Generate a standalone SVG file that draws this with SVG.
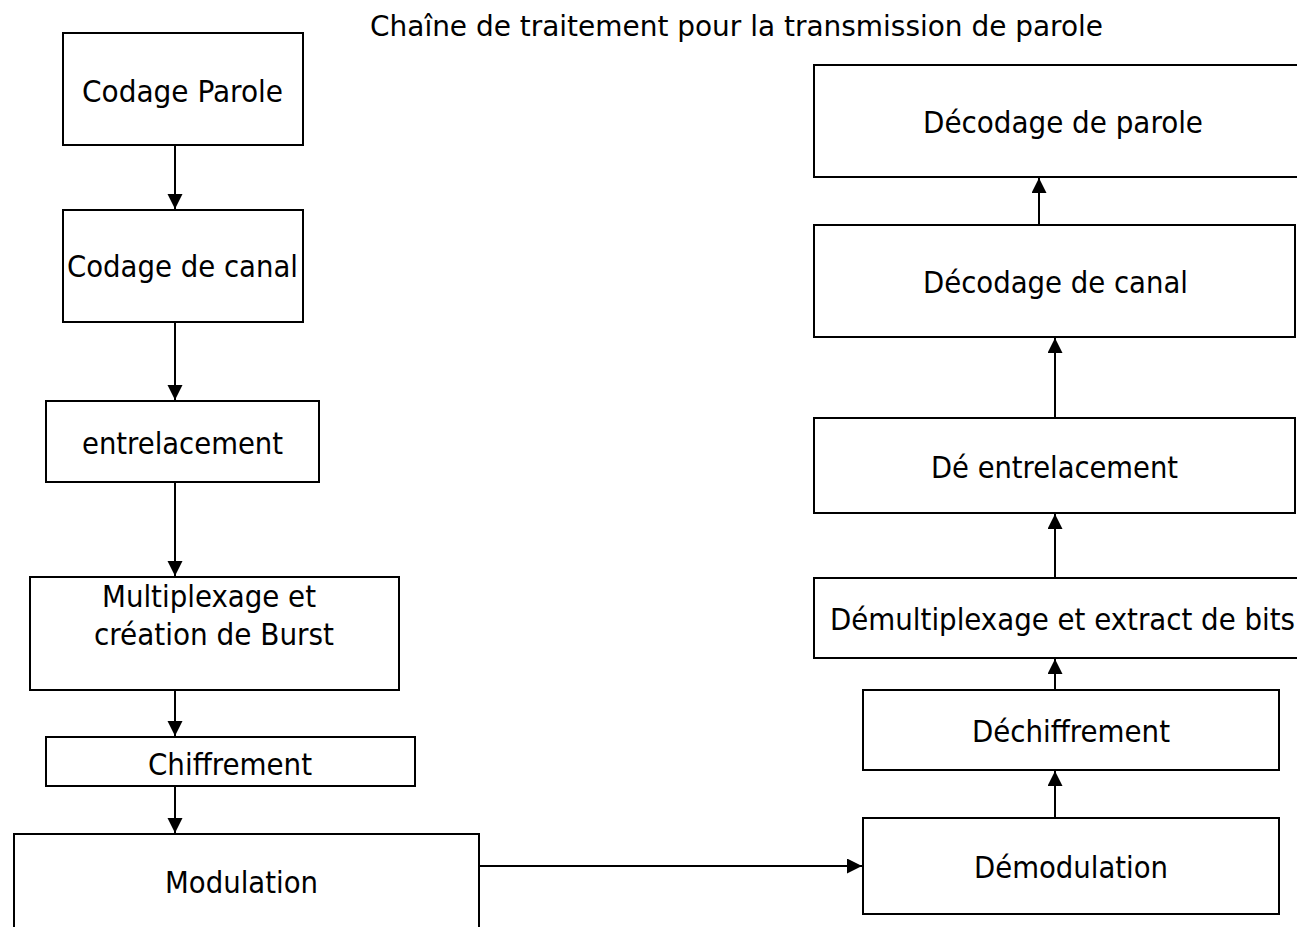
<svg xmlns="http://www.w3.org/2000/svg" width="1297" height="927" viewBox="0 0 1297 927">
<style>
.box{fill:#fff;stroke:#000;stroke-width:2}
.lbl{font-family:"DejaVu Sans Condensed","DejaVu Sans","Liberation Sans",sans-serif;font-size:31px;fill:#000}
.title{font-family:"DejaVu Sans Condensed","Liberation Sans",Arial,sans-serif;font-size:29px;fill:#000}
.con{stroke:#000;stroke-width:2;fill:none;marker-end:url(#ah)}
</style>
<defs>
<marker id="ah" markerUnits="userSpaceOnUse" markerWidth="16" markerHeight="16" refX="15" refY="7.5" orient="auto">
<path d="M0,0 L15,7.5 L0,15 z" fill="#000"/>
</marker>
</defs>
<rect width="1297" height="927" fill="#fff"/>
<text class="title" x="370" y="36" textLength="733" lengthAdjust="spacingAndGlyphs">Chaîne de traitement pour la transmission de parole</text>

<g id="codage-parole"><rect class="box" x="63" y="33" width="240" height="112"/><text class="lbl" x="82" y="102" textLength="201" lengthAdjust="spacingAndGlyphs">Codage Parole</text></g>
<g id="codage-canal"><rect class="box" x="63" y="210" width="240" height="112"/><text class="lbl" x="67" y="277" textLength="231" lengthAdjust="spacingAndGlyphs">Codage de canal</text></g>
<g id="entrelacement"><rect class="box" x="46" y="401" width="273" height="81"/><text class="lbl" x="82" y="454" textLength="201" lengthAdjust="spacingAndGlyphs">entrelacement</text></g>
<g id="multiplexage"><rect class="box" x="30" y="577" width="369" height="113"/><text class="lbl" x="102" y="607" textLength="214" lengthAdjust="spacingAndGlyphs">Multiplexage et</text><text class="lbl" x="94" y="645" textLength="240" lengthAdjust="spacingAndGlyphs">création de Burst</text></g>
<g id="chiffrement"><rect class="box" x="46" y="737" width="369" height="49"/><text class="lbl" x="148" y="775" textLength="164" lengthAdjust="spacingAndGlyphs">Chiffrement</text></g>
<g id="modulation"><rect class="box" x="14" y="834" width="465" height="110"/><text class="lbl" x="165" y="893" textLength="153" lengthAdjust="spacingAndGlyphs">Modulation</text></g>

<g id="decodage-parole"><rect class="box" x="814" y="65" width="490" height="112"/><text class="lbl" x="923" y="133" textLength="280" lengthAdjust="spacingAndGlyphs">Décodage de parole</text></g>
<g id="decodage-canal"><rect class="box" x="814" y="225" width="481" height="112"/><text class="lbl" x="923" y="293" textLength="265" lengthAdjust="spacingAndGlyphs">Décodage de canal</text></g>
<g id="de-entrelacement"><rect class="box" x="814" y="418" width="481" height="95"/><text class="lbl" x="931" y="478" textLength="247" lengthAdjust="spacingAndGlyphs">Dé entrelacement</text></g>
<g id="demultiplexage"><rect class="box" x="814" y="578" width="490" height="80"/><text class="lbl" x="830" y="630" textLength="465" lengthAdjust="spacingAndGlyphs">Démultiplexage et extract de bits</text></g>
<g id="dechiffrement"><rect class="box" x="863" y="690" width="416" height="80"/><text class="lbl" x="972" y="742" textLength="198" lengthAdjust="spacingAndGlyphs">Déchiffrement</text></g>
<g id="demodulation"><rect class="box" x="863" y="818" width="416" height="96"/><text class="lbl" x="974" y="878" textLength="194" lengthAdjust="spacingAndGlyphs">Démodulation</text></g>

<g id="connectors">
<line class="con" x1="175" y1="145" x2="175" y2="209"/>
<line class="con" x1="175" y1="322" x2="175" y2="400"/>
<line class="con" x1="175" y1="482" x2="175" y2="576"/>
<line class="con" x1="175" y1="690" x2="175" y2="736"/>
<line class="con" x1="175" y1="786" x2="175" y2="833"/>
<line class="con" x1="479" y1="866" x2="862" y2="866"/>
<line class="con" x1="1055" y1="818" x2="1055" y2="771"/>
<line class="con" x1="1055" y1="690" x2="1055" y2="659"/>
<line class="con" x1="1055" y1="578" x2="1055" y2="514"/>
<line class="con" x1="1055" y1="418" x2="1055" y2="338"/>
<line class="con" x1="1039" y1="225" x2="1039" y2="178"/>
</g>
</svg>
